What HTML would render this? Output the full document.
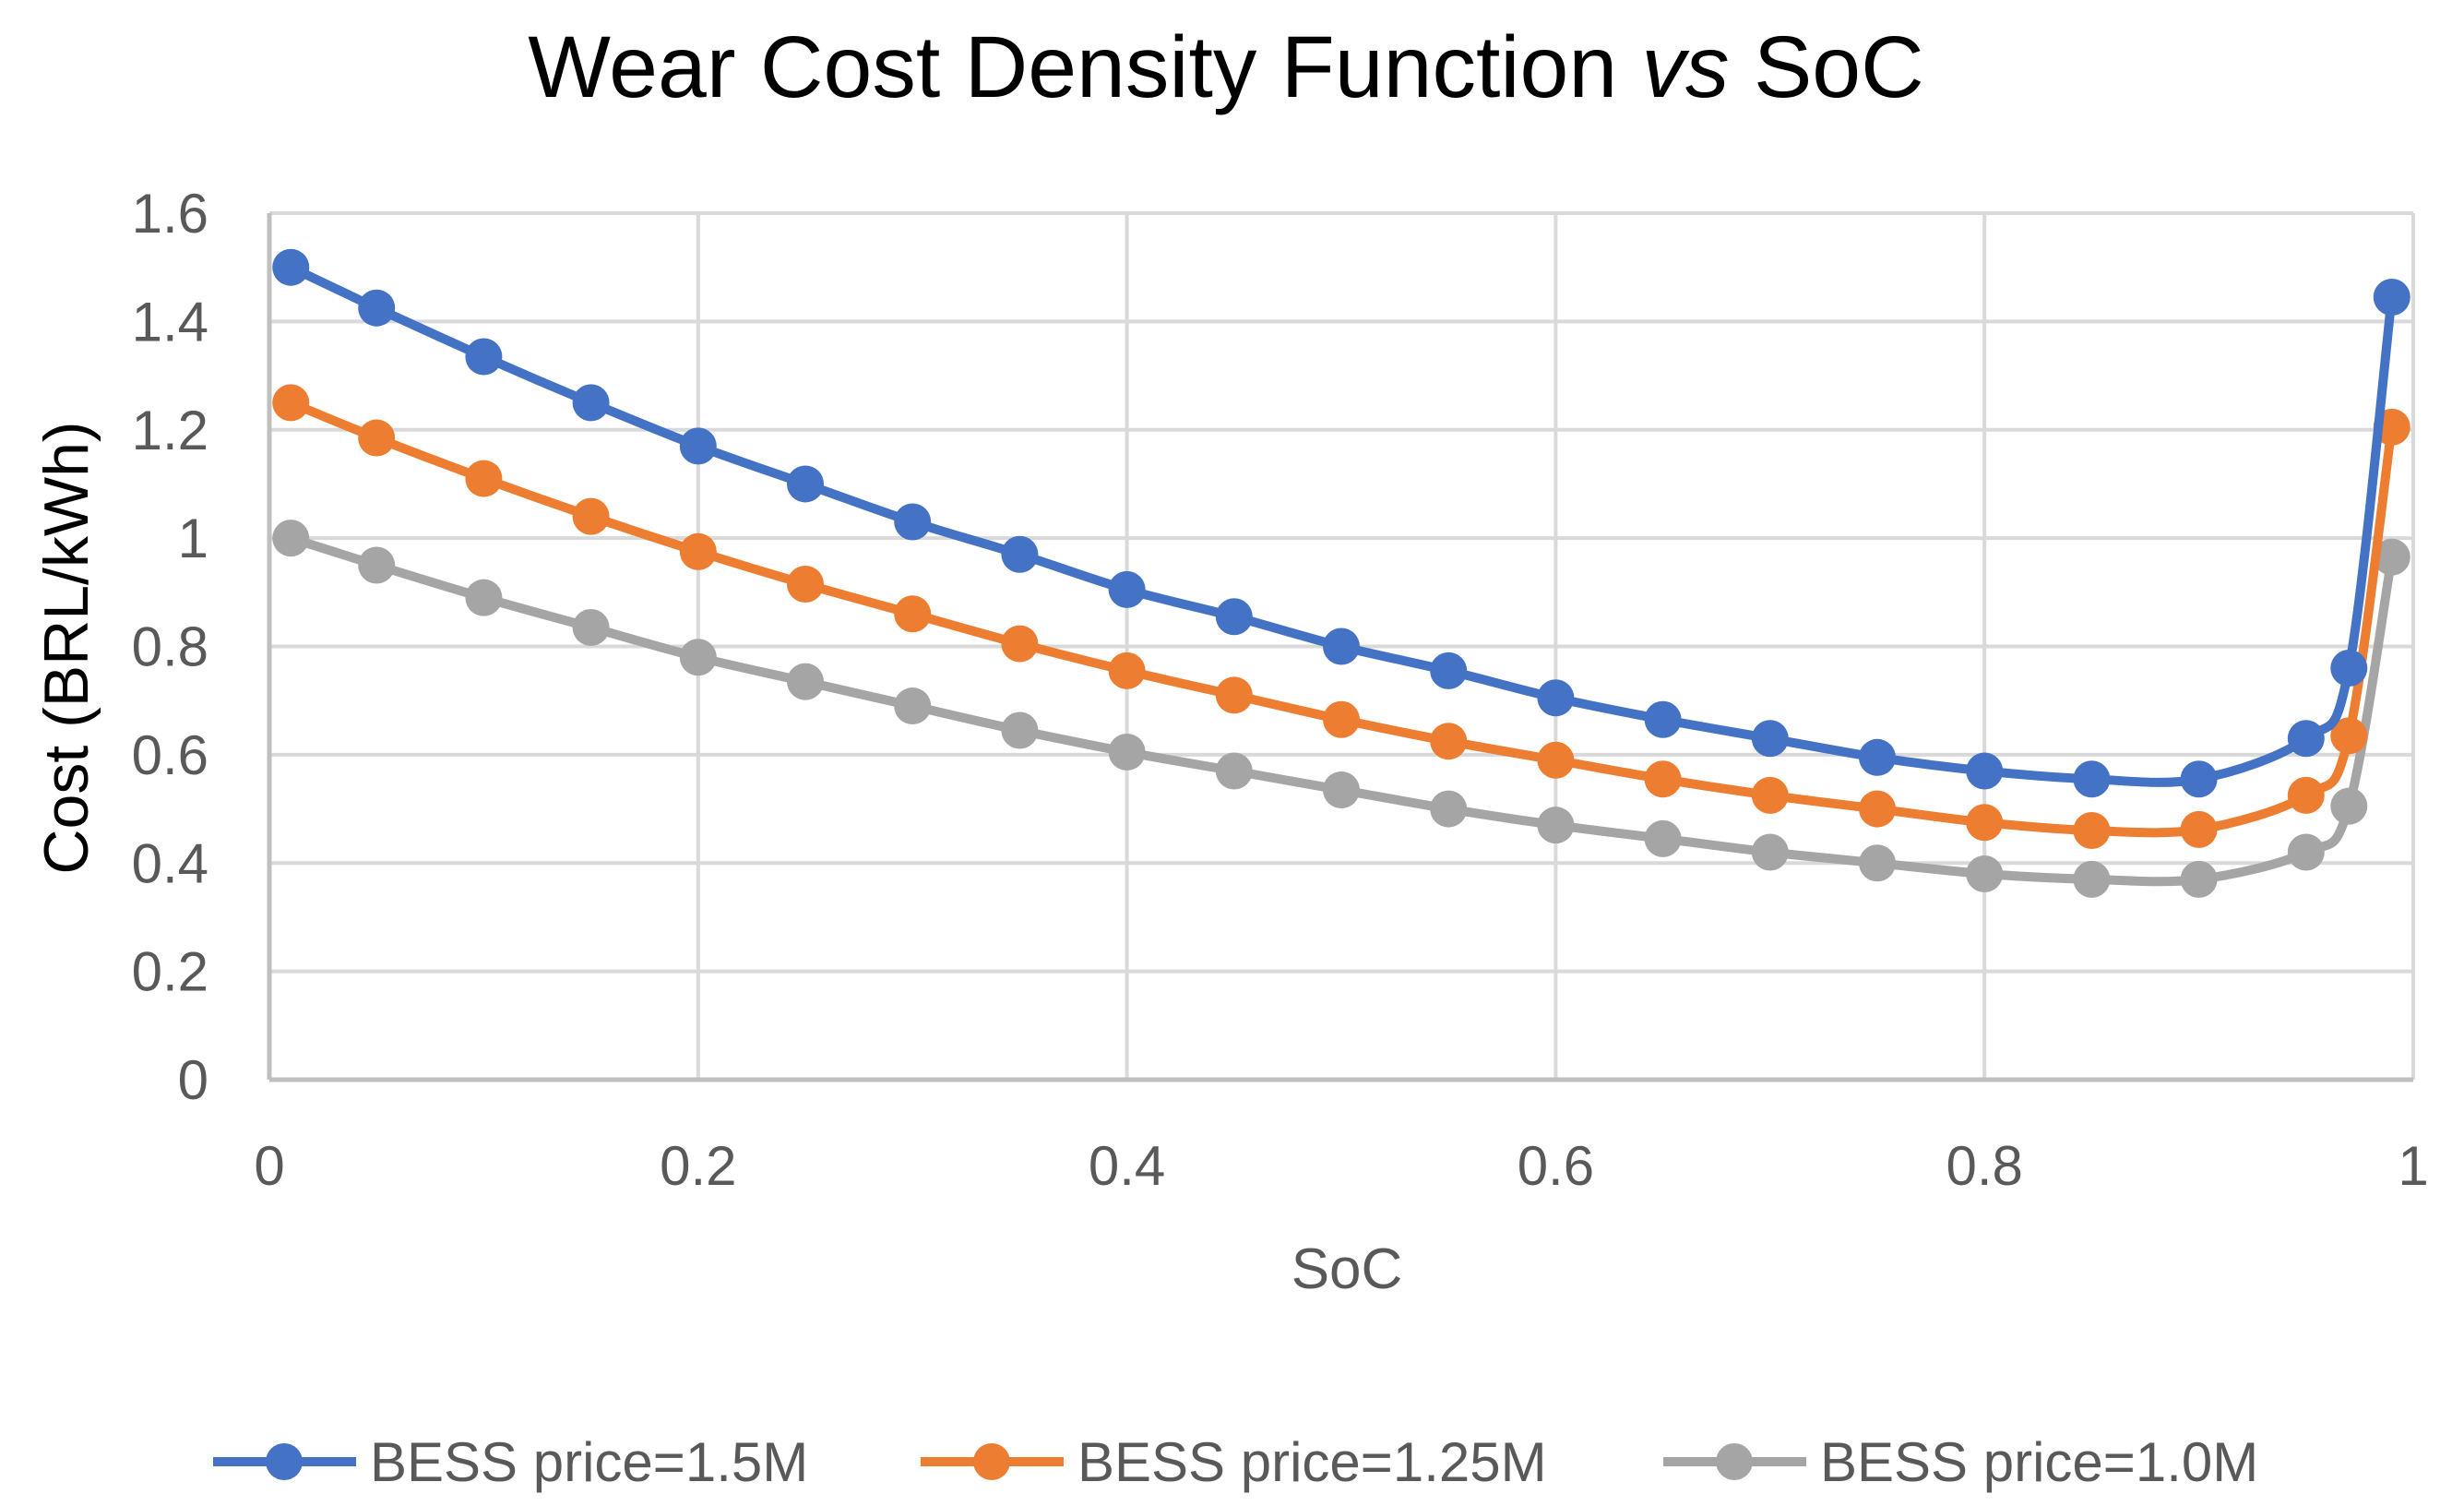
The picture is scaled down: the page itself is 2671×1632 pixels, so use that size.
<!DOCTYPE html>
<html><head><meta charset="utf-8"><style>
html,body{margin:0;padding:0;background:#fff;}
svg{display:block;font-family:"Liberation Sans",sans-serif;}
</style></head><body>
<svg id="chart" width="2671" height="1632" viewBox="0 0 2671 1632">
<text x="1329" y="105" font-size="95" text-anchor="middle" fill="#000">Wear Cost Density Function <tspan font-style="italic">vs</tspan> SoC</text>
<g id="grid"></g>
<g id="yticks"></g>
<g id="xticks"></g>
<g id="series"></g>
<text transform="translate(95,702) rotate(-90)" font-size="68" text-anchor="middle" fill="#000">Cost (BRL/kWh)</text>
<text x="1460" y="1396" font-size="62" text-anchor="middle" fill="#595959">SoC</text>
<g id="legend"></g>
</svg>
<script>
const xValues=[0.01,0.05,0.1,0.15,0.2,0.25,0.3,0.35,0.4,0.45,0.5,0.55,0.6,0.65,0.7,0.75,0.8,0.85,0.9,0.95,0.97,0.99];
const blueValues=[1.5,1.425,1.335,1.25,1.17,1.1,1.03,0.97,0.905,0.855,0.8,0.755,0.705,0.665,0.63,0.595,0.57,0.555,0.555,0.63,0.76,1.445];
const orangeValues=[1.25,1.185,1.11,1.04,0.975,0.915,0.86,0.805,0.755,0.71,0.665,0.625,0.59,0.555,0.525,0.5,0.475,0.46,0.462,0.525,0.635,1.205];
const grayValues=[1.0,0.95,0.89,0.835,0.78,0.735,0.69,0.645,0.605,0.57,0.535,0.5,0.47,0.445,0.42,0.4,0.38,0.37,0.37,0.42,0.505,0.965];
const seriesNames=["BESS price=1.5M","BESS price=1.25M","BESS price=1.0M"];
const yTicks=[0,0.2,0.4,0.6,0.8,1,1.2,1.4,1.6];
const yTickLabels=["0","0.2","0.4","0.6","0.8","1","1.2","1.4","1.6"];
const xTicks=[0,0.2,0.4,0.6,0.8,1];
const xTickLabels=["0","0.2","0.4","0.6","0.8","1"];

const NS="http://www.w3.org/2000/svg";
const X0=292,X1=2616,Y0=1170,Y1=231;
const sx=v=>X0+(X1-X0)*v;
const sy=v=>Y0-(Y0-Y1)*v/1.6;
function mk(tag,attrs,parent){const e=document.createElementNS(NS,tag);for(const k in attrs)e.setAttribute(k,attrs[k]);parent.appendChild(e);return e;}
const grid=document.getElementById('grid');
yTicks.forEach((t,i)=>{
  const l=mk('line',{x1:X0,x2:X1,y1:sy(t),y2:sy(t),stroke:'#d9d9d9','stroke-width':4},grid);
  
  
  const tx=mk('text',{x:X0-66,y:sy(t)+21,'font-size':60,'text-anchor':'end',fill:'#595959'},document.getElementById('yticks'));
  tx.textContent=yTickLabels[i];
  
  
});
xTicks.forEach((t,i)=>{
  const l=mk('line',{x1:sx(t),x2:sx(t),y1:Y1,y2:Y0,stroke:'#d9d9d9','stroke-width':4},grid);
  
  
  const tx=mk('text',{x:sx(t),y:1284,'font-size':60,'text-anchor':'middle',fill:'#595959'},document.getElementById('xticks'));
  tx.textContent=xTickLabels[i];
  
  
});
const ax=mk('line',{x1:X0,x2:X0,y1:Y1,y2:Y0,stroke:'#bfbfbf','stroke-width':5},grid);


const bx=mk('line',{x1:X0,x2:X1,y1:Y0,y2:Y0,stroke:'#bfbfbf','stroke-width':5},grid);



function smoothPath(pts){
  let d=`M${pts[0][0]},${pts[0][1]}`;
  for(let i=0;i<pts.length-1;i++){
    const p0=pts[Math.max(i-1,0)],p1=pts[i],p2=pts[i+1],p3=pts[Math.min(i+2,pts.length-1)];
    const t=1/6;
    const c1=[p1[0]+(p2[0]-p0[0])*t,p1[1]+(p2[1]-p0[1])*t];
    const c2=[p2[0]-(p3[0]-p1[0])*t,p2[1]-(p3[1]-p1[1])*t];
    d+=` C${c1[0]},${c1[1]} ${c2[0]},${c2[1]} ${p2[0]},${p2[1]}`;
  }
  return d;
}
const colors=['#4472c4','#ed7d31','#a5a5a5'];
const allSeries=[blueValues,orangeValues,grayValues];
const sg=document.getElementById('series');
[2,1,0].forEach(si=>{
  const vals=allSeries[si];
  const g=mk('g',{},sg);
  
  
  const pts=xValues.map((x,i)=>[sx(x),sy(vals[i])]);
  const p=mk('path',{d:smoothPath(pts),fill:'none',stroke:colors[si],'stroke-width':10,'stroke-linejoin':'round'},g);
  
  
  pts.forEach(pt=>{
    const c=mk('circle',{cx:pt[0],cy:pt[1],r:20,fill:colors[si]},g);
    
    
  });
});
const lg=document.getElementById('legend');
const legX=[231,998,1803];
seriesNames.forEach((n,i)=>{
  const g=mk('g',{},lg);
  
  
  mk('line',{x1:legX[i],x2:legX[i]+155,y1:1584,y2:1584,stroke:colors[i],'stroke-width':10},g);
  mk('circle',{cx:legX[i]+77,cy:1584,r:20,fill:colors[i]},g);
  const t=mk('text',{x:legX[i]+170,y:1605,'font-size':60,fill:'#595959'},g);
  t.textContent=n;
});
</script>
</body></html>
